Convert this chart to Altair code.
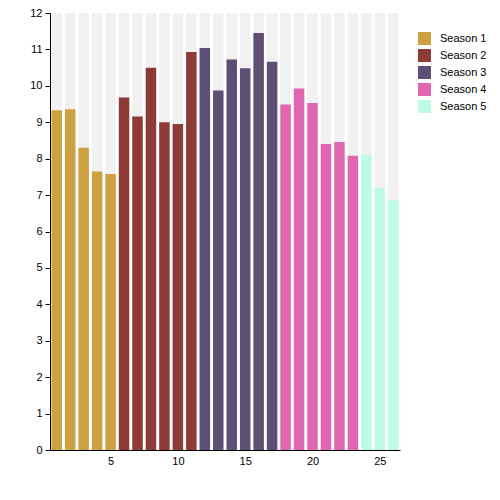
import altair as alt
import pandas as pd

episodes = list(range(1, 27))
ratings = [9.33, 9.36, 8.30, 7.65, 7.58,
           9.68, 9.16, 10.50, 9.00, 8.95, 10.93,
           11.04, 9.87, 10.72, 10.48, 11.45, 10.66,
           9.49, 9.93, 9.53, 8.40, 8.46, 8.08,
           8.11, 7.20, 6.85]
seasons = (["Season 1"] * 5 + ["Season 2"] * 6 + ["Season 3"] * 6 +
           ["Season 4"] * 6 + ["Season 5"] * 3)
season_names = ["Season 1", "Season 2", "Season 3", "Season 4", "Season 5"]
season_colors = ["#CDA140", "#8E3B37", "#5E4F76", "#E066B1", "#BEFBE6"]
bg_name = "background"
bg_color = "#f1f1f1"
y_max = 12
y_ticks = [0, 1, 2, 3, 4, 5, 6, 7, 8, 9, 10, 11, 12]
x_ticks = [5, 10, 15, 20, 25]

bg_df = pd.DataFrame({"episode": episodes, "value": [y_max] * len(episodes),
                      "group": [bg_name] * len(episodes), "layer": 0})
fg_df = pd.DataFrame({"episode": episodes, "value": ratings,
                      "group": seasons, "layer": 1})
df = pd.concat([bg_df, fg_df], ignore_index=True)
df["zero"] = 0

font = "Liberation Sans"

xscale = alt.Scale(domain=[0.5, 26.5], nice=False, zero=False)
yscale = alt.Scale(domain=[0, y_max], nice=False)

chart = alt.Chart(df).transform_calculate(
    x0="datum.episode - 0.39", x1="datum.episode + 0.39"
).mark_rect().encode(
    x=alt.X("x0:Q", scale=xscale,
            axis=alt.Axis(values=x_ticks, title=None, ticks=False, grid=False,
                          domainColor="black", labelColor="black",
                          labelFont=font, labelFontSize=11, labelPadding=5)),
    x2="x1:Q",
    y=alt.Y("value:Q", scale=yscale,
            axis=alt.Axis(values=y_ticks, title=None, grid=False,
                          domainColor="black", tickColor="black", tickSize=5,
                          labelColor="black", labelFont=font, labelFontSize=11,
                          labelPadding=3, labelOverlap=False)),
    y2="zero:Q",
    color=alt.Color("group:N",
                    scale=alt.Scale(domain=season_names + [bg_name],
                                    range=season_colors + [bg_color]),
                    legend=alt.Legend(values=season_names, title=None,
                                      orient="none", legendX=368, legendY=19,
                                      symbolType="square", symbolSize=169,
                                      symbolStrokeWidth=0, labelFont=font,
                                      labelFontSize=11, labelColor="black",
                                      labelOffset=9, rowPadding=4)),
    order=alt.Order("layer:Q"),
).properties(
    width=350, height=437,
    autosize=alt.AutoSizeParams(type="none"),
    padding={"left": 42, "top": 5, "right": 90, "bottom": 30},
).configure_view(stroke=None)

chart.save("out.html", embed_options={"renderer": "svg", "actions": False})
